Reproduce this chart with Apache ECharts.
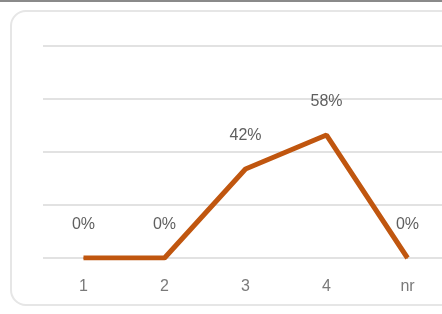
<!DOCTYPE html>
<html>
<head>
<meta charset="utf-8">
<script src="https://cdn.jsdelivr.net/npm/echarts@6/dist/echarts.min.js"></script>
<style>
  html, body {
    margin: 0;
    padding: 0;
    width: 442px;
    height: 314px;
    overflow: hidden;
    background: #fff;
  }
  .topline {
    position: absolute;
    left: 0;
    top: 0;
    width: 442px;
    height: 2px;
    background: #8a8a8a;
  }
  .card {
    position: absolute;
    left: 10px;
    top: 10px;
    width: 450px;
    height: 292px;
    border: 2px solid #e6e6e6;
    border-radius: 16px;
  }
  #chart {
    position: absolute;
    left: 0;
    top: 0;
    width: 470px;
    height: 314px;
  }
</style>
</head>
<body>
<div class="topline"></div>
<div class="card"></div>
<div id="chart"></div>
<script>
  const categories = ['1', '2', '3', '4', 'nr']
  const values = [0, 0, 0.42, 0.58, 0]
  const yTicks = [0, 0.25, 0.5, 0.75, 1]

  const chart = echarts.init(document.getElementById('chart'))
  chart.setOption({
    animation: false,
    grid: {
      left: 43,
      top: 46,
      width: 405,
      height: 212,
    },
    xAxis: {
      type: 'category',
      data: categories,
      axisLine: { show: false },
      axisTick: { show: false },
      axisLabel: {
        color: '#7a7a7a',
        fontSize: 16,
        margin: 21,
        fontFamily: 'Liberation Sans',
      },
    },
    yAxis: {
      type: 'value',
      min: yTicks[0],
      max: yTicks[yTicks.length - 1],
      interval: 0.25,
      axisLabel: { show: false },
      axisLine: { show: false },
      axisTick: { show: false },
      splitLine: {
        lineStyle: { color: '#d9d9d9', width: 1.5 },
      },
    },
    series: [
      {
        type: 'line',
        data: values,
        symbol: 'circle',
        symbolSize: 1,
        itemStyle: { color: '#c0560f' },
        lineStyle: { color: '#c0560f', width: 5 },
        label: {
          show: true,
          position: 'top',
          distance: 25,
          color: '#5f5f5f',
          fontSize: 16,
          fontFamily: 'Liberation Sans',
          formatter: (p) => Math.round(p.value * 100) + '%',
        },
      },
    ],
  })
</script>
</body>
</html>
